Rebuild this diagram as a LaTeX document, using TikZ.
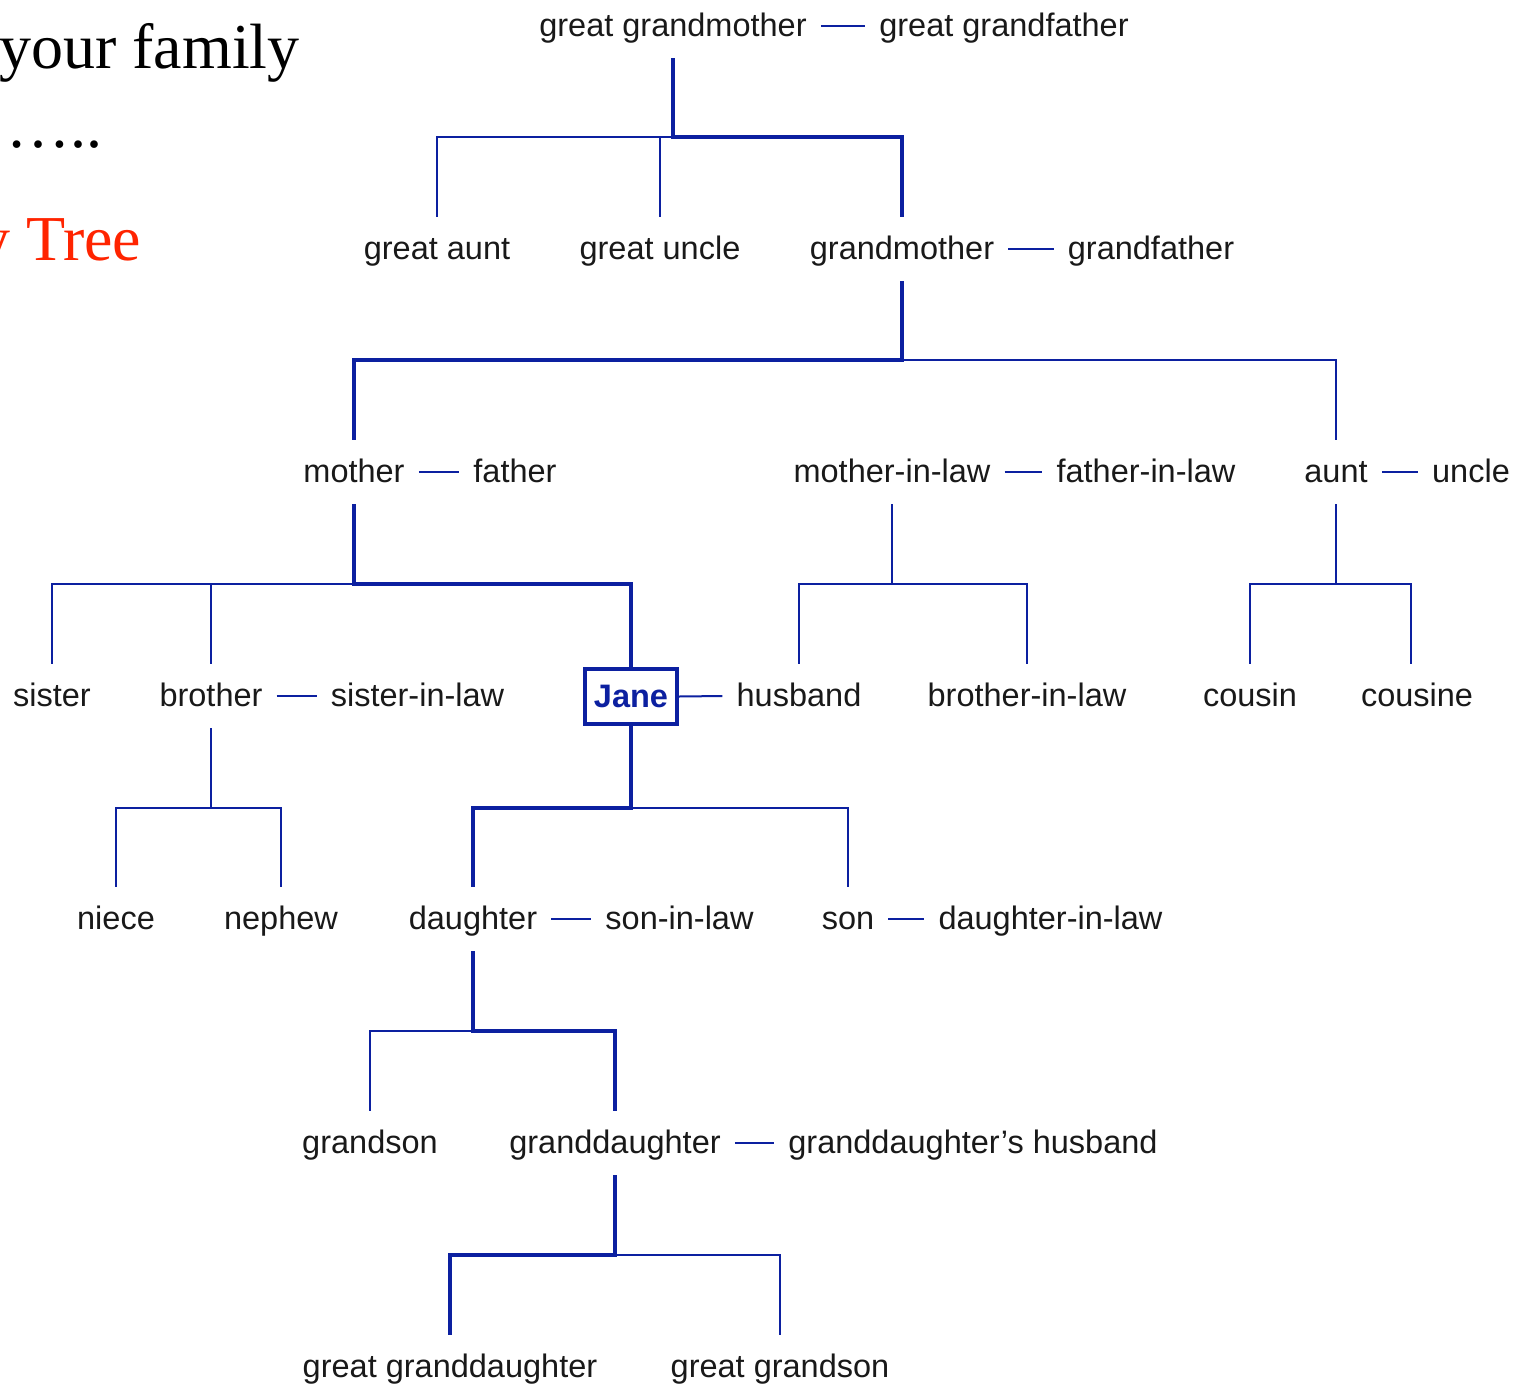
\documentclass[tikz,border=0pt]{standalone}
\usepackage{fontspec}
\setmainfont{Liberation Sans}
\newfontfamily\titlefont{Liberation Serif}
\definecolor{treeblue}{RGB}{12,32,160}
\definecolor{labelgray}{RGB}{25,25,25}
\definecolor{titlered}{RGB}{255,36,0}
\begin{document}
\begin{tikzpicture}[x=1pt,y=-1pt,
  person/.style={anchor=base, inner xsep=14pt, inner ysep=18pt,
    text height=24pt, text depth=4pt,
    font=\fontsize{32.5}{39}\selectfont, text=labelgray},
  self/.style={draw=treeblue, line width=4pt, inner sep=0pt,
    minimum width=92pt, minimum height=55pt, text=treeblue,
    font=\fontsize{32.5}{39}\selectfont\bfseries},
  kin/.style={draw=treeblue, line width=2pt},
  lineage/.style={draw=treeblue, line width=4pt, line join=miter},
  spouse/.style={draw=treeblue, line width=2pt},
  heading/.style={anchor=base west, inner sep=0pt,
    font=\titlefont\fontsize{64}{72}\selectfont},
]
\clip (0,0) rectangle (1519,1385);

% heading text at the left edge
\node[heading] (h1) at (-1,68) {your family};
\node[heading] (h2) at (6,147) {…..};
\node[heading, text=titlered] (h3) at (-22,260) {y Tree};

% heights of the sibling bars
\coordinate (bar1) at (0,137);
\coordinate (bar2) at (0,360);
\coordinate (bar3) at (0,584);
\coordinate (bar4) at (0,808);
\coordinate (bar5) at (0,1031);
\coordinate (bar6) at (0,1255);

% generation 0
\node[person] (ggm) at (673,36) {great grandmother};
\node[person] (ggf) at (1004,36) {great grandfather};
% generation 1
\node[person] (gaunt) at (437,259) {great aunt};
\node[person] (guncle) at (660,259) {great uncle};
\node[person] (gma) at (902,259) {grandmother};
\node[person] (gpa) at (1151,259) {grandfather};
% generation 2
\node[person] (mother) at (354,482) {mother};
\node[person] (father) at (515,482) {father};
\node[person] (mil) at (892,482) {mother-in-law};
\node[person] (fil) at (1146,482) {father-in-law};
\node[person] (aunt) at (1336,482) {aunt};
\node[person] (uncle) at (1471,482) {uncle};
% generation 3
\node[person] (sister) at (52,706) {sister};
\node[person] (brother) at (211,706) {brother};
\node[person] (sil) at (417.5,706) {sister-in-law};
\node[self] (jane) at (631,696.5) {Jane};
\node[person] (husband) at (799,706) {husband};
\node[person] (bil) at (1027,706) {brother-in-law};
\node[person] (cousin) at (1250,706) {cousin};
\node[person] (cousine) at (1417,706) {cousine};
% generation 4
\node[person] (niece) at (116,929) {niece};
\node[person] (nephew) at (281,929) {nephew};
\node[person] (daughter) at (473,929) {daughter};
\node[person] (soninlaw) at (679.5,929) {son-in-law};
\node[person] (son) at (848,929) {son};
\node[person] (dil) at (1050.5,929) {daughter-in-law};
% generation 5
\node[person] (grandson) at (370,1153) {grandson};
\node[person] (gdaughter) at (615,1153) {granddaughter};
\node[person] (gdhusband) at (973,1153) {granddaughter’s husband};
% generation 6
\node[person] (ggd) at (450,1377) {great granddaughter};
\node[person] (ggs) at (780,1377) {great grandson};

% marriages
\foreach \a/\b in {ggm/ggf, gma/gpa, mother/father, mil/fil, aunt/uncle,
                   brother/sil, jane/husband, daughter/soninlaw, son/dil,
                   gdaughter/gdhusband}
  \draw[spouse] (\a.east) -- (\b.west);

% side branches
\draw[kin] (ggm.south |- bar1) -| (gaunt.north);
\draw[kin] (guncle.north |- bar1) -- (guncle.north);
\draw[kin] (gma.south |- bar2) -| (aunt.north);
\draw[kin] (mil.south) -- (mil.south |- bar3);
\draw[kin] (husband.north) |- (bil.north |- bar3) -- (bil.north);
\draw[kin] (aunt.south) -- (aunt.south |- bar3);
\draw[kin] (cousin.north) |- ([xshift=-6pt]cousine.north |- bar3) -- ([xshift=-6pt]cousine.north);
\draw[kin] (mother.south |- bar3) -| (sister.north);
\draw[kin] (brother.north |- bar3) -- (brother.north);
\draw[kin] (brother.south) -- (brother.south |- bar4);
\draw[kin] (niece.north) |- (nephew.north |- bar4) -- (nephew.north);
\draw[kin] (jane.south |- bar4) -| (son.north);
\draw[kin] (daughter.south |- bar5) -| (grandson.north);
\draw[kin] (gdaughter.south |- bar6) -| (ggs.north);

% direct line of descent
\draw[lineage] (ggm.south) -- (ggm.south |- bar1) -| (gma.north);
\draw[lineage] (gma.south) -- (gma.south |- bar2) -| (mother.north);
\draw[lineage] (mother.south) -- (mother.south |- bar3) -| (jane.north);
\draw[lineage] (jane.south) -- (jane.south |- bar4) -| (daughter.north);
\draw[lineage] (daughter.south) -- (daughter.south |- bar5) -| (gdaughter.north);
\draw[lineage] (gdaughter.south) -- (gdaughter.south |- bar6) -| (ggd.north);
\end{tikzpicture}
\end{document}
